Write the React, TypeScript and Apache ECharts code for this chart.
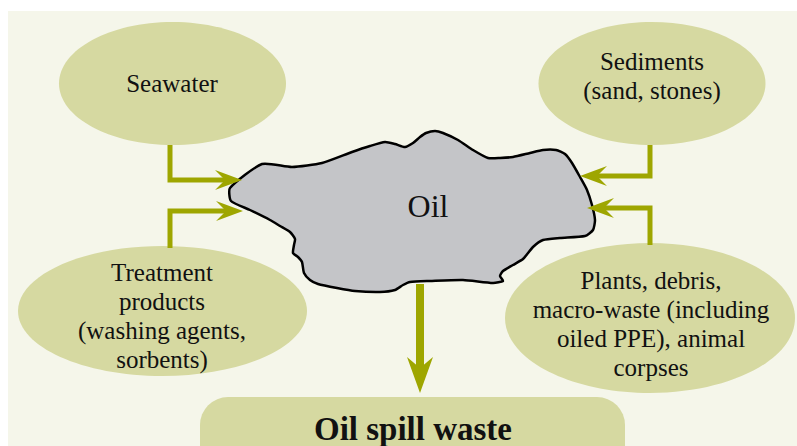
import React, { useEffect, useRef } from "react";
import * as echarts from "echarts";

// Diagram content
const sourceLabels: string[] = [
  "Seawater",
  "Sediments\n(sand, stones)",
  "Treatment\nproducts\n(washing agents,\nsorbents)",
  "Plants, debris,\nmacro-waste (including\noiled PPE), animal\ncorpses",
];
const centerLabel = "Oil";
const outputLabel = "Oil spill waste";

// Layout (ellipse centres / radii, text centres)
const ellipses = [
  { cx: 172.5, cy: 83.5, rx: 113.5, ry: 61.5, tx: 172, ty: 83 },
  { cx: 652, cy: 83.5, rx: 113.5, ry: 61.5, tx: 652, ty: 76 },
  { cx: 162.5, cy: 311, rx: 144.5, ry: 65, tx: 162, ty: 316 },
  { cx: 650, cy: 318, rx: 145, ry: 75, tx: 651, ty: 324 },
];

const blobOutline: number[][] = [
  [230, 188], [262, 164], [292, 167], [322, 163], [352, 152], [370, 146], [385, 142],
  [395, 144], [405, 147], [413, 143], [420, 137], [426, 133], [435, 131], [443, 133],
  [458, 140], [473, 150], [488, 158], [500, 158], [513, 157], [530, 153], [543, 150],
  [556, 150], [565, 154], [572, 163], [580, 177], [587, 190], [592, 205], [595, 220],
  [593, 230], [585, 236], [560, 238], [543, 240], [533, 247], [523, 259], [513, 265],
  [503, 271], [500, 276], [503, 281], [493, 283], [463, 280], [430, 281], [410, 282],
  [403, 285], [395, 290], [380, 292], [355, 291], [337, 288], [318, 284], [310, 280],
  [304, 273], [302, 262], [298, 257], [293, 253], [294, 245], [295, 239], [290, 232],
  [280, 226], [270, 220], [250, 210], [231, 201],
];

const ARROW = "#9ea600";
const ELLIPSE = "#d6d9a1";
const BG = "#f5f6ea";
const FONT = "Liberation Serif";

function arrowHead(tipX: number, tipY: number, dir: number, len = 27, half = 10, notch = 17) {
  return [
    [tipX, tipY],
    [tipX - dir * len, tipY - half],
    [tipX - dir * notch, tipY],
    [tipX - dir * len, tipY + half],
  ];
}

export default function App() {
  const ref = useRef<HTMLDivElement>(null);
  useEffect(() => {
    document.body.style.margin = "0";
    const chart = echarts.init(ref.current!, null, { renderer: "svg" });
    const elements: any[] = [];
    elements.push({ type: "rect", shape: { x: 8, y: 11, width: 789, height: 435 }, style: { fill: BG } });

    const lines = [
      { pts: [[170, 145], [170, 180], [228, 180]], tip: [242, 180], dir: 1 },
      { pts: [[170, 248], [170, 211], [229, 211]], tip: [243, 211], dir: 1 },
      { pts: [[650, 145], [650, 176], [594, 176]], tip: [580, 176], dir: -1 },
      { pts: [[650, 245], [650, 208], [601, 208]], tip: [587, 208], dir: -1 },
    ];

    ellipses.forEach((e) => {
      elements.push({
        type: "ellipse",
        shape: { cx: e.cx, cy: e.cy, rx: e.rx, ry: e.ry },
        style: { fill: ELLIPSE },
      });
    });

    lines.forEach((l) => {
      elements.push({
        type: "polyline",
        shape: { points: l.pts },
        style: { stroke: ARROW, lineWidth: 5, fill: null, lineJoin: "miter", lineCap: "butt" },
      });
    });

    elements.push({
      type: "polygon",
      shape: { points: blobOutline, smooth: 0.2 },
      style: { fill: "#c4c5c8", stroke: "#000", lineWidth: 2.5, lineJoin: "round" },
    });

    lines.forEach((l) => {
      elements.push({
        type: "polygon",
        shape: { points: arrowHead(l.tip[0], l.tip[1], l.dir) },
        style: { fill: ARROW },
      });
    });

    elements.push({
      type: "line",
      shape: { x1: 420, y1: 284, x2: 420, y2: 372 },
      style: { stroke: ARROW, lineWidth: 8 },
    });
    elements.push({
      type: "polygon",
      shape: { points: [[420, 393], [407, 357], [420, 368], [433, 357]] },
      style: { fill: ARROW },
    });

    elements.push({
      type: "rect",
      shape: { x: 200, y: 397, width: 425, height: 80, r: 28 },
      style: { fill: ELLIPSE },
    });

    ellipses.forEach((e, i) => {
      elements.push({
        type: "text",
        x: e.tx,
        y: e.ty,
        style: {
          text: sourceLabels[i],
          fontSize: 25,
          fontFamily: FONT,
          fill: "#111",
          align: "center",
          verticalAlign: "middle",
          lineHeight: 29,
        },
      });
    });

    elements.push({
      type: "text",
      x: 428,
      y: 206,
      style: { text: centerLabel, fontSize: 32, fontFamily: FONT, fill: "#111", align: "center", verticalAlign: "middle" },
    });
    elements.push({
      type: "text",
      x: 413,
      y: 429,
      style: {
        text: outputLabel,
        fontSize: 33,
        fontWeight: "bold",
        fontFamily: FONT,
        fill: "#111",
        align: "center",
        verticalAlign: "middle",
      },
    });

    chart.setOption({ animation: false, graphic: { elements } });
    return () => chart.dispose();
  }, []);
  return <div ref={ref} style={{ width: 797, height: 446 }} />;
}
